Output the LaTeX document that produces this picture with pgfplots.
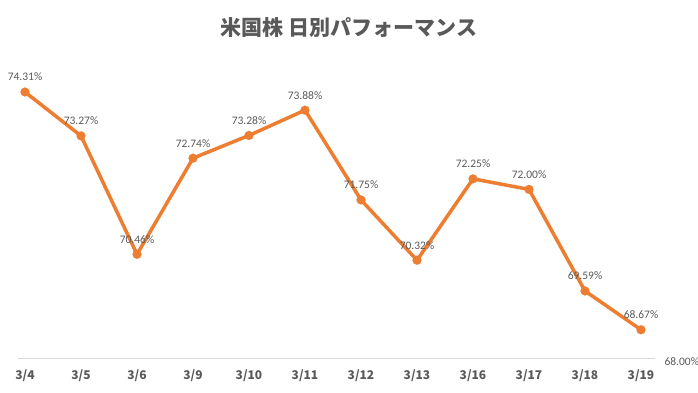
\documentclass[border=0pt]{standalone}
\usepackage{pgfplots}
\pgfplotsset{compat=1.18}
\usepackage{fontspec}
\setmainfont{Carlito}
\newfontfamily\jp{Noto Sans CJK JP}
\definecolor{xlorange}{HTML}{ED7D31}
\definecolor{txtgray}{HTML}{595959}
\definecolor{gridgray}{HTML}{D9D9D9}
\begin{document}
\begin{tikzpicture}[x=1pt,y=1pt]
\begin{axis}[
  at={(18pt,34pt)}, anchor=south west,
  scale only axis, width=637pt, height=274pt,
  xmin=-0.125, xmax=11.25, ymin=68, ymax=74.5,
  /pgf/number format/assume math mode=true,
  axis line style={draw=none},
  xtick={0,...,11},
  xticklabels={3/4,3/5,3/6,3/9,3/10,3/11,3/12,3/13,3/16,3/17,3/18,3/19},
  xticklabel style={font=\jp\bfseries\fontsize{12}{14}\selectfont, text=txtgray, yshift=-8pt},
  major tick length=0pt,
  ytick={68}, yticklabels={68.00\%},
  yticklabel pos=right,
  yticklabel style={font=\fontsize{11.5}{13}\selectfont, text=txtgray, anchor=west, xshift=6pt, yshift=-4pt},
  ymajorgrids, grid style={gridgray, line width=1pt},
  clip=false,
  nodes near coords={\pgfmathprintnumber[fixed,fixed zerofill,precision=2,assume math mode=true]{\pgfplotspointmeta}\%},
  every node near coord/.append style={font=\fontsize{11.5}{13}\selectfont, text=txtgray, anchor=south, inner sep=0pt, yshift=11pt},
]
\addplot[xlorange, line width=3.5pt, line join=round, mark=*, mark size=4.5pt, mark options={fill=xlorange, draw=xlorange, line width=0.1pt}] coordinates {
(0,74.31) (1,73.27) (2,70.46) (3,72.74) (4,73.28) (5,73.88)
(6,71.75) (7,70.32) (8,72.25) (9,72.00) (10,69.59) (11,68.67)
};
\end{axis}
\node[font=\jp\bfseries\fontsize{21}{24}\selectfont, text=txtgray] at (349pt,364pt) {米国株 日別パフォーマンス};
\pgfresetboundingbox
\path (0,0) rectangle (698pt,392pt);
\end{tikzpicture}
\end{document}
